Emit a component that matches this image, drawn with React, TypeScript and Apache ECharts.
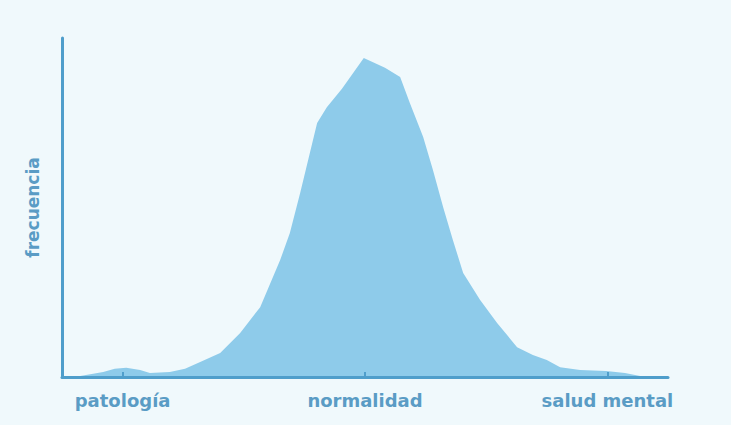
import React, { useEffect, useRef } from "react";
import * as echarts from "echarts";

const xValues = [0, 3, 6.8, 8.7, 10.6, 12.9, 14.5, 17.8, 20.3, 22.8, 26.1, 29.4, 32.7, 36.0, 37.6, 39.3, 40.9, 42.1, 43.7, 46.2, 49.8, 53.3, 55.8, 57.4, 59.6, 61.2, 62.9, 64.5, 66.2, 69.0, 71.8, 75.1, 77.7, 80.0, 82.2, 85.5, 89.8, 92.9, 95.4, 97];
const frecuencia = [0, 0.3, 1.5, 2.4, 2.7, 2.1, 1.2, 1.5, 2.4, 4.4, 7.1, 13.0, 20.6, 34.5, 42.5, 54.3, 66.1, 74.9, 79.6, 85.0, 94.1, 91.2, 88.5, 80.8, 70.8, 61.1, 50.1, 40.4, 30.7, 22.7, 15.9, 8.8, 6.5, 5.0, 2.9, 2.1, 1.8, 1.2, 0.3, 0];
const tickValues = [10, 50, 90];
const tickLabels = ["patología", "normalidad", "salud mental"];
const yName = "frecuencia";

export default function App() {
  const ref = useRef<HTMLDivElement>(null);
  useEffect(() => {
    document.body.style.margin = "0";
    const chart = echarts.init(ref.current!, null, { renderer: "svg" });
    const axisColor = "#4f9ecb";
    const textColor = "#5a9cc5";
    chart.setOption({
      animation: false,
      backgroundColor: "#f0f9fc",
      grid: { left: 62, right: 63, top: 38, bottom: 48 },
      xAxis: {
        type: "value",
        min: 0,
        max: 100,
        interval: 10,
        z: 5,
        splitLine: { show: false },
        axisLine: { show: true, lineStyle: { color: axisColor, width: 3 } },
        axisTick: { show: true, inside: true, length: 5, customValues: tickValues, lineStyle: { color: axisColor, width: 2 } },
        axisLabel: {
          customValues: tickValues,
          margin: 14,
          color: textColor,
          fontFamily: "DejaVu Sans",
          fontWeight: "bold",
          fontSize: 18,
          formatter: (v: number) => {
            const i = tickValues.indexOf(v);
            return i >= 0 ? tickLabels[i] : "";
          },
        },
      },
      yAxis: {
        type: "value",
        min: 0,
        max: 100,
        z: 5,
        name: yName,
        nameLocation: "middle",
        nameRotate: 90,
        nameGap: 21,
        nameTextStyle: { color: textColor, fontFamily: "DejaVu Sans", fontWeight: "bold", fontSize: 17 },
        splitLine: { show: false },
        axisTick: { show: false },
        axisLabel: { show: false },
        axisLine: { show: true, lineStyle: { color: axisColor, width: 3 } },
      },
      series: [
        {
          type: "line",
          data: xValues.map((x, i) => [x, frecuencia[i]]),
          showSymbol: false,
          smooth: false,
          lineStyle: { width: 0 },
          areaStyle: { color: "#8ecbea", opacity: 1 },
        },
      ],
    });
    return () => chart.dispose();
  }, []);
  return <div ref={ref} style={{ width: 731, height: 425, position: "absolute", left: 0, top: 0 }} />;
}
